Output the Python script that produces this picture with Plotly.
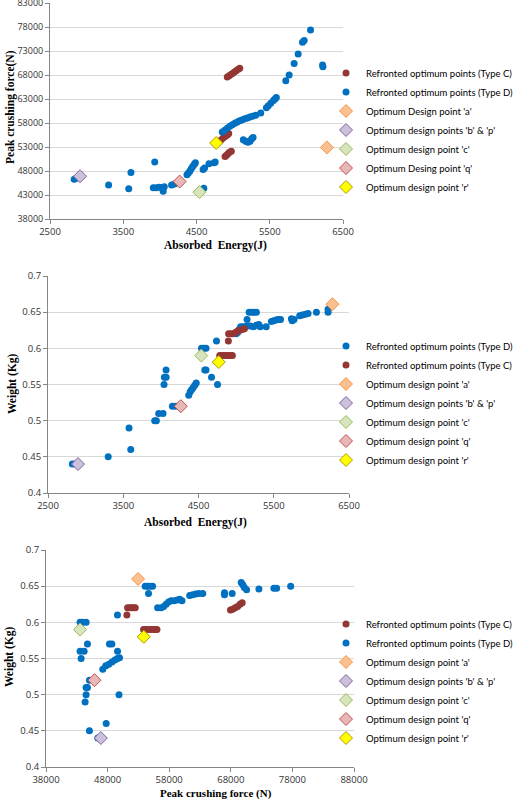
import plotly.graph_objects as go

W, H = 520, 801

# ---------------- Chart 1: Absorbed energy vs Peak crushing force ----------------
c1_D_energy = [2830, 2860, 3300, 3575, 3605, 3930, 3910, 3950, 3990, 4030, 4045, 4060, 4160, 4200,
               4370, 4390, 4410, 4430, 4450, 4470, 4485,
               4590, 4610, 4600, 4670, 4740, 4755,
               4852, 4885, 4920, 4955, 4989, 5023, 5057, 5090, 5126, 5160, 5194, 5230, 5263, 5308, 5377,
               5454, 5480, 5513, 5550, 5570, 5590,
               5719, 5765, 5833, 5888, 5947, 5970, 6057, 6221, 6226,
               5139, 5171, 5203, 5231, 5253, 5272]
c1_D_force = [46300, 46500, 45100, 44300, 47700, 49900, 44500, 44500, 44600, 44500, 43800, 44700, 45100, 45300,
              47200, 47600, 48000, 48500, 49000, 49400, 49700,
              48300, 48600, 44400, 49500, 49700, 49900,
              56100, 56500, 56900, 57300, 57650, 57950, 58200, 58450, 58700, 58900, 59050, 59250, 59400, 59600, 60100,
              61200, 61600, 62100, 62700, 63000, 63300,
              66800, 68000, 70400, 72400, 74800, 75200, 77400, 70100, 69700,
              54500, 54200, 54000, 54200, 54700, 55000]
c1_C_energy = [4920, 4950, 4980, 5010, 5040, 5070, 5090,
               4800, 4830, 4860, 4890, 4920, 4940,
               4890, 4910, 4930, 4950, 4975]
c1_C_force = [67600, 67900, 68200, 68500, 68900, 69200, 69400,
              54000, 54400, 54800, 55200, 55500, 55800,
              51000, 51300, 51600, 51900, 52100]
c1_pt_energy = {"a": 6280, "bp": 2910, "c": 4540, "q": 4270, "r": 4769}
c1_pt_force = {"a": 52900, "bp": 46900, "c": 43600, "q": 45800, "r": 53840}

# ---------------- Chart 2: Absorbed energy vs Weight ----------------
c2_D_energy = [2823, 2855, 3300, 3577, 3600, 3918, 3940, 3971, 4029, 4042, 4047, 4070, 4069, 4153, 4197,
               4370, 4390, 4410, 4430, 4450, 4470,
               4540, 4570, 4600, 4584, 4600, 4673, 4753, 4739,
               5000, 5020, 5040, 5060, 5090, 5120, 5150, 5190, 5230, 5270, 5300, 5320, 5400,
               5145, 5173, 5210, 5240, 5269,
               5469, 5500, 5530, 5560, 5590, 5735, 5745, 5770, 5845, 5880, 5920, 5956, 6067, 6222, 6222]
c2_D_weight = [0.44, 0.44, 0.45, 0.49, 0.46, 0.50, 0.50, 0.51, 0.51, 0.55, 0.56, 0.56, 0.57, 0.52, 0.52,
               0.535, 0.54, 0.543, 0.546, 0.549, 0.552,
               0.60, 0.60, 0.60, 0.57, 0.57, 0.56, 0.55, 0.61,
               0.62, 0.622, 0.626, 0.63, 0.63, 0.63, 0.631, 0.631, 0.63, 0.632, 0.633, 0.63, 0.63,
               0.64, 0.65, 0.65, 0.65, 0.65,
               0.637, 0.638, 0.639, 0.64, 0.64, 0.641, 0.638, 0.64, 0.645, 0.646, 0.647, 0.648, 0.65, 0.65, 0.654]
c2_C_energy = [4897, 4900, 4930, 4960, 4990, 5020, 5050, 5080, 5110,
               4782, 4810, 4840, 4870, 4900, 4930, 4950]
c2_C_weight = [0.61, 0.62, 0.62, 0.62, 0.622, 0.624, 0.625, 0.626, 0.627,
               0.59, 0.59, 0.59, 0.59, 0.59, 0.59, 0.59]
c2_pt_energy = {"a": 6280, "bp": 2899, "c": 4537, "q": 4264, "r": 4769}
c2_pt_weight = {"a": 0.661, "bp": 0.44, "c": 0.59, "q": 0.52, "r": 0.581}

# ---------------- Chart 3: Peak crushing force vs Weight ----------------
c3_D_force = [43535, 43970, 44510, 43535, 44190, 43700, 44730, 44510, 44730, 44510, 44350, 45050, 45050,
              46410, 46680, 47770, 48300, 48690,
              47220, 47700, 48200, 48700, 49200, 49600, 49930,
              49610, 49850, 49600,
              54100, 54500, 54900, 55300, 54640,
              56120, 56700, 57100, 57500, 57900, 58300, 58800, 59300, 59700, 60080,
              61330, 61800, 62300, 62800, 63450,
              66975, 66975, 68220, 69690, 69950, 70200, 70560, 72560, 75000, 75440, 77720]
c3_D_weight = [0.60, 0.60, 0.60, 0.56, 0.56, 0.55, 0.57, 0.51, 0.51, 0.50, 0.49, 0.52, 0.45,
               0.44, 0.44, 0.46, 0.57, 0.57,
               0.535, 0.54, 0.542, 0.545, 0.548, 0.55, 0.551,
               0.56, 0.50, 0.61,
               0.65, 0.65, 0.65, 0.65, 0.64,
               0.62, 0.62, 0.622, 0.625, 0.628, 0.63, 0.63, 0.631, 0.632, 0.63,
               0.637, 0.638, 0.639, 0.64, 0.64,
               0.641, 0.638, 0.64, 0.655, 0.652, 0.648, 0.645, 0.646, 0.647, 0.647, 0.65]
c3_C_force = [51130, 51240, 51600, 51900, 52200, 52490,
              53840, 54200, 54600, 55000, 55400, 55700, 56010,
              67950, 68300, 68700, 69100, 69500, 69850]
c3_C_weight = [0.61, 0.62, 0.62, 0.62, 0.62, 0.62,
               0.59, 0.59, 0.59, 0.59, 0.59, 0.59, 0.59,
               0.617, 0.618, 0.62, 0.622, 0.625, 0.627]
c3_pt_force = {"a": 52950, "bp": 46900, "c": 43535, "q": 45870, "r": 53880}
c3_pt_weight = {"a": 0.66, "bp": 0.44, "c": 0.59, "q": 0.52, "r": 0.58}

legend1_names = ["Refronted optimum points (Type C)", "Refronted optimum points (Type D)",
                 "Optimum Design point 'a'", "Optimum design points 'b' & 'p'",
                 "Optimum design point 'c'", "Optimum Desing point 'q'", "Optimum design point 'r'"]
legend2_names = ["Refronted optimum points (Type D)", "Refronted optimum points (Type C)",
                 "Optimum design point 'a'", "Optimum design points 'b' & 'p'",
                 "Optimum design point 'c'", "Optimum design point 'q'", "Optimum design point 'r'"]
legend3_names = ["Refronted optimum points (Type C)", "Refronted optimum points (Type D)",
                 "Optimum design point 'a'", "Optimum design points 'b' & 'p'",
                 "Optimum design point 'c'", "Optimum design point 'q'", "Optimum design point 'r'"]

BLUE = "#0070C0"
MAROON = "#943634"
DIAMOND = {"a": ("#FAC090", "#F79646"), "bp": ("#CCC1DA", "#8064A2"), "c": ("#D7E4BD", "#9BBB59"),
           "q": ("#E6B9B8", "#C0504D"), "r": ("#FFFF00", "#B09A00")}

fig = go.Figure()


def dots(x, y, color, name, xa, ya, leg):
    fig.add_trace(go.Scatter(x=x, y=y, mode="markers", name=name, xaxis=xa, yaxis=ya, legend=leg,
                             marker=dict(color=color, size=7, line=dict(width=0))))


def diamond(key, x, y, name, xa, ya, leg):
    fill, edge = DIAMOND[key]
    fig.add_trace(go.Scatter(x=[x], y=[y], mode="markers", name=name, xaxis=xa, yaxis=ya, legend=leg,
                             marker=dict(symbol="diamond", color=fill, size=10, line=dict(color=edge, width=1))))


# chart 1
dots(c1_C_energy, c1_C_force, MAROON, legend1_names[0], "x", "y", "legend")
dots(c1_D_energy, c1_D_force, BLUE, legend1_names[1], "x", "y", "legend")
for k, nm in zip(["a", "bp", "c", "q", "r"], legend1_names[2:]):
    diamond(k, c1_pt_energy[k], c1_pt_force[k], nm, "x", "y", "legend")

# chart 2
dots(c2_D_energy, c2_D_weight, BLUE, legend2_names[0], "x2", "y2", "legend2")
dots(c2_C_energy, c2_C_weight, MAROON, legend2_names[1], "x2", "y2", "legend2")
for k, nm in zip(["a", "bp", "c", "q", "r"], legend2_names[2:]):
    diamond(k, c2_pt_energy[k], c2_pt_weight[k], nm, "x2", "y2", "legend2")

# chart 3
dots(c3_C_force, c3_C_weight, MAROON, legend3_names[0], "x3", "y3", "legend3")
dots(c3_D_force, c3_D_weight, BLUE, legend3_names[1], "x3", "y3", "legend3")
for k, nm in zip(["a", "bp", "c", "q", "r"], legend3_names[2:]):
    diamond(k, c3_pt_force[k], c3_pt_weight[k], nm, "x3", "y3", "legend3")


def px(x):
    return x / W


def py(y):
    return 1 - y / H


TICKFONT = dict(family="Open Sans", size=9.5, color="#333333")
AXLINE = "#868686"
GRID = "#D9D9D9"


def xaxis(dom, rng, dtick, anchor):
    return dict(domain=dom, range=rng, dtick=dtick, tick0=rng[0], showgrid=False, zeroline=False,
                showline=True, linecolor=AXLINE, linewidth=1, ticks="outside", ticklen=4, tickcolor=AXLINE,
                tickfont=TICKFONT, anchor=anchor, automargin=False, fixedrange=True, tickformat="d",
                ticklabeloverflow="allow")


def yaxis(dom, rng, dtick, anchor, fmt=None, fsize=9.5):
    f = dict(TICKFONT)
    f["size"] = fsize
    d = dict(domain=dom, range=rng, dtick=dtick, tick0=rng[0], showgrid=True, gridcolor=GRID, gridwidth=1,
             zeroline=False, showline=True, linecolor=AXLINE, linewidth=1, ticks="outside", ticklen=4,
             tickcolor=AXLINE, tickfont=f, anchor=anchor, automargin=False, fixedrange=True,
             ticklabeloverflow="allow")
    if fmt:
        d["tickformat"] = fmt
    return d


LEGFONT = dict(family="Lato", size=9.5, color="#000000")


def legend(center_y):
    return dict(x=px(326), xanchor="left", y=py(center_y), yanchor="middle", font=LEGFONT,
                bgcolor="rgba(0,0,0,0)", borderwidth=0, tracegroupgap=0)


TITLEFONT = dict(family="Liberation Serif", size=11.5, color="#000000")


def title(text, x, y, angle=0, size=11.5):
    f = dict(TITLEFONT)
    f["size"] = size
    return dict(text="<b>" + text + "</b>", x=px(x), y=py(y), xref="paper", yref="paper", showarrow=False,
                textangle=angle, font=f, xanchor="center", yanchor="middle")


fig.update_layout(
    width=W, height=H, margin=dict(l=0, r=0, t=0, b=0, autoexpand=False),
    paper_bgcolor="white", plot_bgcolor="white",
    xaxis=xaxis([px(50), px(343)], [2500, 6500], 1000, "y"),
    yaxis=yaxis([py(219), py(3)], [38000, 83000], 5000, "x", "d", 9),
    xaxis2=xaxis([px(48), px(349)], [2500, 6500], 1000, "y2"),
    yaxis2=yaxis([py(493), py(276)], [0.4, 0.7], 0.05, "x2"),
    xaxis3=xaxis([px(46), px(354)], [38000, 88000], 10000, "y3"),
    yaxis3=yaxis([py(767), py(550)], [0.4, 0.7], 0.05, "x3"),
    legend=legend(130),
    legend2=legend(403),
    legend3=legend(681),
    annotations=[
        title("Absorbed  Energy(J)", 215, 245),
        title("Peak crushing force(N)", 10, 107, -90),
        title("Absorbed  Energy(J)", 195, 522),
        title("Weight (Kg)", 12, 384, -90),
        title("Peak crushing force (N)", 216, 793, 0, 11),
        title("Weight (Kg)", 9, 657, -90),
    ],
)

fig.write_html("out.html", config={"displayModeBar": False},
               post_script="document.body.style.margin='0px';document.body.style.overflow='hidden';")
